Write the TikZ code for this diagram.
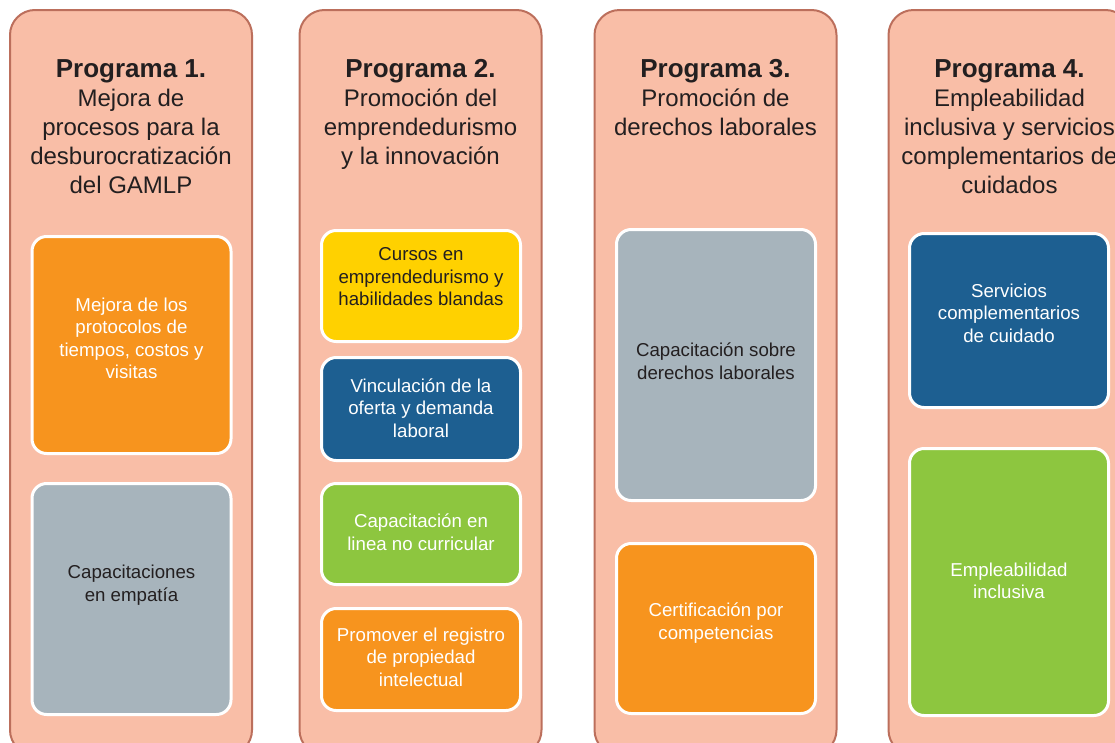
\documentclass[tikz,border=0pt]{standalone}
\usepackage{fontspec}
\setmainfont{Liberation Sans}
\definecolor{colfill}{HTML}{F9BEA7}
\definecolor{colline}{HTML}{BC6F5C}
\definecolor{borange}{HTML}{F7941E}
\definecolor{bgray}{HTML}{A7B4BC}
\definecolor{byellow}{HTML}{FFD100}
\definecolor{bblue}{HTML}{1D5F91}
\definecolor{bgreen}{HTML}{8DC63F}
\definecolor{dtext}{HTML}{231F20}
\begin{document}
\begin{tikzpicture}[x=0.75pt,y=-0.75pt,
  column/.style={draw=colline, fill=colfill, line width=1.5pt, rounded corners=18.75pt,
    minimum width=181.5pt, minimum height=558.75pt, inner sep=0pt},
  ibox/.style={draw=white, line width=2.25pt, rounded corners=11pt,
    minimum width=149.25pt, inner sep=0pt},
  title/.style={anchor=north, align=center, inner sep=0pt, text=dtext,
    font=\fontsize{18}{21.75}\selectfont},
  wtext/.style={align=center, inner sep=0pt, text=white,
    font=\fontsize{14}{16.9}\selectfont},
  dtxt/.style={align=center, inner sep=0pt, text=dtext,
    font=\fontsize{14}{16.9}\selectfont}]
\useasboundingbox (0,0) rectangle (1115,743);
\clip (0,0) rectangle (1115,743);
\fill[white] (0,0) rectangle (1115,743);
% columns
\node[column] (c1) at (131,382.5) {};
\node[column] (c2) at (420.5,382.5) {};
\node[column] (c3) at (715.5,382.5) {};
\node[column] (c4) at (1009.5,382.5) {};
% titles
\node[title] (h1) at (131,59) {{\bfseries\fontsize{19.5}{21.75}\selectfont Programa 1.}\\Mejora de\\procesos para la\\desburocratización\\del GAMLP};
\node[title] (h2) at (420.5,59) {{\bfseries\fontsize{19.5}{21.75}\selectfont Programa 2.}\\Promoción del\\emprendedurismo\\y la innovación};
\node[title] (h3) at (715.5,59) {{\bfseries\fontsize{19.5}{21.75}\selectfont Programa 3.}\\Promoción de\\derechos laborales};
\node[title] (h4) at (1009.5,59) {{\bfseries\fontsize{19.5}{21.75}\selectfont Programa 4.}\\Empleabilidad\\inclusiva y servicios\\complementarios de\\cuidados};
% column 1
\node[ibox, fill=borange, minimum height=162.75pt] (b11) at (131.5,345) {};
\node[wtext] (t11) at (131.5,338.5) {Mejora de los\\protocolos de\\tiempos, costos y\\visitas};
\node[ibox, fill=bgray, minimum height=173.25pt] (b12) at (131.5,599) {};
\node[dtxt] (t12) at (131.5,585) {Capacitaciones\\en empatía};
% column 2
\node[ibox, fill=byellow, minimum height=83.25pt] (b21) at (421,286) {};
\node[dtxt] (t21) at (421,277) {Cursos en\\emprendedurismo y\\habilidades blandas};
\node[ibox, fill=bblue, minimum height=77.25pt] (b22) at (421,409) {};
\node[wtext] (t22) at (421,408) {Vinculación de la\\oferta y demanda\\laboral};
\node[ibox, fill=bgreen, minimum height=75.75pt] (b23) at (421,534) {};
\node[wtext] (t23) at (421,532) {Capacitación en\\linea no curricular};
\node[ibox, fill=borange, minimum height=76.5pt] (b24) at (421,659.5) {};
\node[wtext] (t24) at (421,657) {Promover el registro\\de propiedad\\intelectual};
% column 3
\node[ibox, fill=bgray, minimum height=203.25pt] (b31) at (716,365) {};
\node[dtxt] (t31) at (716,361) {Capacitación sobre\\derechos laborales};
\node[ibox, fill=borange, minimum height=127.5pt] (b32) at (716,628.5) {};
\node[wtext] (t32) at (716,623) {Certificación por\\competencias};
% column 4
\node[ibox, fill=bblue, minimum height=130.5pt] (b41) at (1009,320.5) {};
\node[wtext] (t41) at (1009,313) {Servicios\\complementarios\\de cuidado};
\node[ibox, fill=bgreen, minimum height=200.25pt] (b42) at (1009,582) {};
\node[wtext] (t42) at (1009,581) {Empleabilidad\\inclusiva};
\end{tikzpicture}
\end{document}
